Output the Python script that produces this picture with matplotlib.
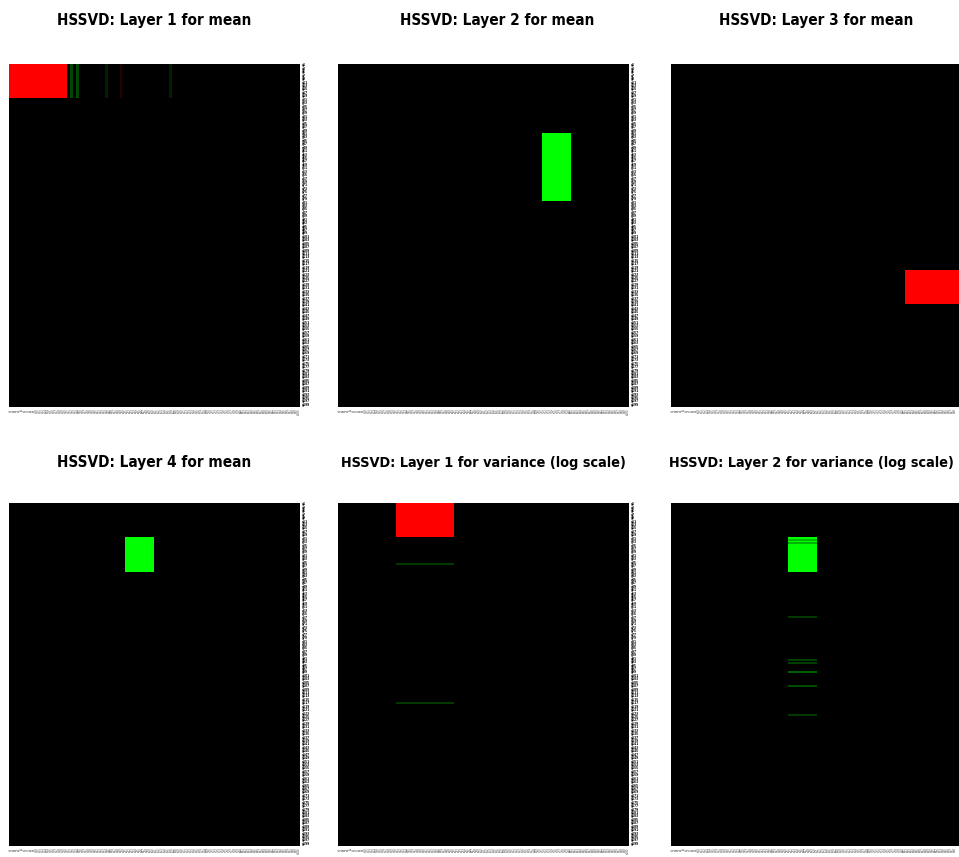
import numpy as np
import matplotlib
matplotlib.use("Agg")
import matplotlib.pyplot as plt
from matplotlib.colors import LinearSegmentedColormap

# Matrix dimensions (genes x samples)
n_rows = 200
n_cols = 100

row_names = [f"g{i + 1}" for i in range(n_rows)]
col_names = [f"s{j + 1}" for j in range(n_cols)]

titles = [
    "HSSVD: Layer 1 for mean",
    "HSSVD: Layer 2 for mean",
    "HSSVD: Layer 3 for mean",
    "HSSVD: Layer 4 for mean",
    "HSSVD: Layer 1 for variance (log scale)",
    "HSSVD: Layer 2 for variance (log scale)",
]

# Each layer: list of (row_start, row_end, col_start, col_end, value)
layer1_mean = [
    (0, 20, 0, 20, 1.0),
    (0, 20, 21, 22, -0.28),
    (0, 20, 23, 24, -0.28),
    (0, 20, 33, 34, -0.12),
    (0, 20, 38, 39, 0.15),
    (0, 20, 55, 56, -0.12),
]
layer2_mean = [
    (40, 80, 70, 80, -1.0),
]
layer3_mean = [
    (120, 140, 80, 100, 1.0),
]
layer4_mean = [
    (20, 40, 40, 50, -1.0),
]
layer1_var = [
    (0, 20, 20, 40, 1.0),
    (35, 36, 20, 40, -0.22),
    (116, 117, 20, 40, -0.22),
]
layer2_var = [
    (20, 40, 40, 50, -1.0),
    (21, 22, 40, 50, -0.75),
    (23, 24, 40, 50, -0.7),
    (66, 67, 40, 50, -0.22),
    (91, 92, 40, 50, -0.25),
    (93, 94, 40, 50, -0.25),
    (98, 99, 40, 50, -0.38),
    (106, 107, 40, 50, -0.3),
    (123, 124, 40, 50, -0.22),
]
layers = [layer1_mean, layer2_mean, layer3_mean, layer4_mean, layer1_var, layer2_var]


def build_matrix(blocks):
    m = np.zeros((n_rows, n_cols))
    for r0, r1, c0, c1, v in blocks:
        m[r0:r1, c0:c1] = v
    return m


cmap = LinearSegmentedColormap.from_list("gbr", ["#00ff00", "#000000", "#ff0000"])

W, H = 959, 857
fig = plt.figure(figsize=(W / 100, H / 100), dpi=100)

# pixel layout of each panel: left, top, width, height, title centre x
lefts = [9, 338, 671]
tops = [64, 503]
pw, ph = 291, 343
title_cx = [[154, 497, 816], [154, 483, 811]]
title_y = [20, 463]
title_size = [11.0, 11.0, 11.0, 11.0, 10.4, 10.4]

row_idx = np.arange(0, n_rows, 2)

for k, blocks in enumerate(layers):
    r, c = divmod(k, 3)
    x0, y0 = lefts[c], tops[r]
    ax = fig.add_axes([x0 / W, 1 - (y0 + ph) / H, pw / W, ph / H])
    mat = build_matrix(blocks)
    ax.imshow(mat, cmap=cmap, vmin=-1, vmax=1, aspect="auto",
              interpolation="nearest")
    for s in ax.spines.values():
        s.set_visible(False)
    ax.yaxis.tick_right()
    if c < 2:
        ax.set_yticks(row_idx)
        ax.set_yticklabels([row_names[i] for i in row_idx], fontsize=2.1,
                           color="black", fontweight="bold")
    else:
        # the right-hand panels run off the canvas, so their row names are hidden
        ax.set_yticks([])
    # keep only column labels that land on the canvas
    col_px = x0 + (np.arange(n_cols) + 0.5) * pw / n_cols
    col_idx = np.arange(n_cols)[col_px < W - 2]
    ax.set_xticks(col_idx)
    ax.set_xticklabels([col_names[j] for j in col_idx], fontsize=2.0,
                       color="#444444", rotation=90)
    ax.tick_params(length=0, pad=1)
    fig.text(title_cx[r][c] / W, 1 - title_y[r] / H, titles[k],
             ha="center", va="center", fontsize=title_size[k],
             fontweight="bold", family="DejaVu Sans", fontstretch="condensed")

fig.savefig("out.png", dpi=100, facecolor="white")
